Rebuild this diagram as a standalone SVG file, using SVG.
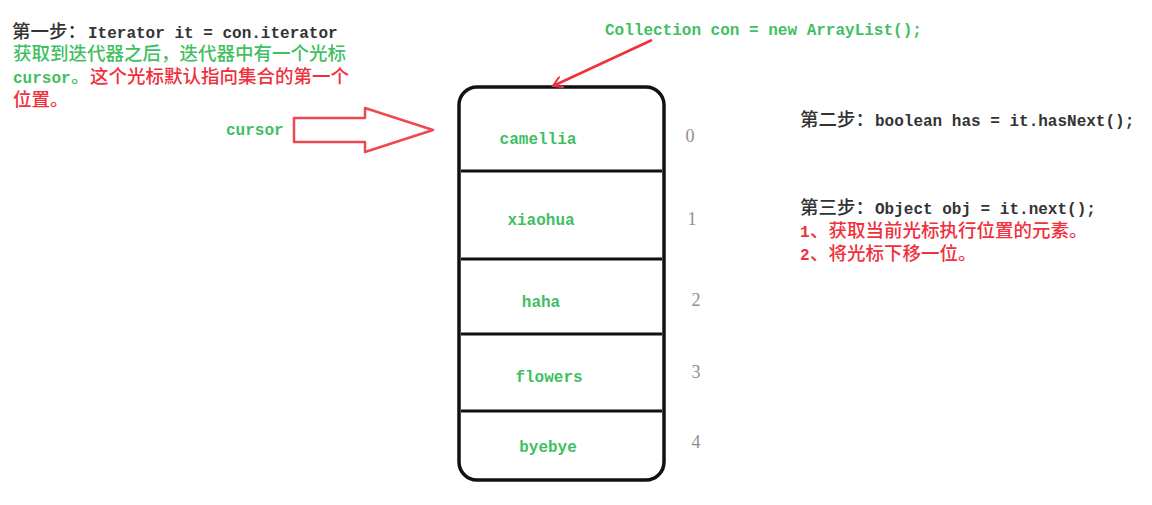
<svg xmlns="http://www.w3.org/2000/svg" width="1152" height="505" viewBox="0 0 1152 505">
<style>
text{font-family:"Liberation Mono","Noto Sans CJK SC",monospace;font-size:16px;font-weight:bold}
.c{font-family:"Noto Sans CJK SC",sans-serif;font-size:18.5px;font-weight:500}
.k{fill:#333}
.g{fill:#3fbf62}
.r{fill:#f0303c}
.n{font-family:"Liberation Serif",serif;font-size:18px;font-weight:normal;fill:#8f8f8f;text-anchor:middle}
.lbl{fill:#3fbf62;text-anchor:middle;font-weight:bold}
.div{stroke:#111;stroke-width:3;fill:none}
</style>
<defs>
<marker id="ah" viewBox="0 0 12 12" refX="10" refY="6" markerWidth="12" markerHeight="12" markerUnits="userSpaceOnUse" orient="auto">
<path d="M0,0 L10,6 L0,12" fill="none" stroke="#f0303c" stroke-width="2"/>
</marker>
</defs>
<rect width="1152" height="505" fill="#fff"/>
<g id="step1">
<text x="12" y="38" class="c k">第一步：</text>
<text x="88" y="38" class="k">Iterator it = con.iterator</text>
<text x="13" y="60" class="c g">获取到迭代器之后，迭代器中有一个光标</text>
<text x="13" y="83" class="g">cursor</text>
<text x="71" y="83" class="c g">。</text>
<text x="90" y="83" class="c r">这个光标默认指向集合的第一个</text>
<text x="13" y="106" class="c r">位置。</text>
</g>
<g id="collection-label">
<text x="605" y="35" class="g">Collection con = new ArrayList();</text>
</g>
<g id="step2">
<text x="800" y="126" class="c k">第二步：</text>
<text x="875" y="126" class="k">boolean has = it.hasNext();</text>
</g>
<g id="step3">
<text x="800" y="214" class="c k">第三步：</text>
<text x="875" y="214" class="k">Object obj = it.next();</text>
<text x="800" y="237" class="r">1</text>
<text x="810" y="237" class="c r">、获取当前光标执行位置的元素。</text>
<text x="800" y="260" class="r">2</text>
<text x="810" y="260" class="c r">、将光标下移一位。</text>
</g>
<g id="cursor">
<text x="226" y="135" class="g">cursor</text>
<path d="M294,118 L365,118 L365,108 L433,130 L365,152 L365,142 L294,142 Z" fill="#fff" stroke="#f04850" stroke-width="2.5" stroke-linejoin="round"/>
</g>
<g id="collection">
<rect x="459" y="87" width="205" height="393" rx="18" ry="18" fill="none" stroke="#111" stroke-width="3.5"/>
</g>
<g id="item0"><line x1="461" y1="171" x2="662" y2="171" class="div"/><text x="538" y="144" class="lbl">camellia</text><text x="690" y="142" class="n">0</text></g>
<g id="item1"><line x1="461" y1="259" x2="662" y2="259" class="div"/><text x="541" y="225" class="lbl">xiaohua</text><text x="692" y="225" class="n">1</text></g>
<g id="item2"><line x1="461" y1="334" x2="662" y2="334" class="div"/><text x="541" y="307" class="lbl">haha</text><text x="696" y="306" class="n">2</text></g>
<g id="item3"><line x1="461" y1="411" x2="662" y2="411" class="div"/><text x="549" y="382" class="lbl">flowers</text><text x="696" y="378" class="n">3</text></g>
<g id="item4"><text x="548" y="452" class="lbl">byebye</text><text x="696" y="448" class="n">4</text></g>
<g id="connectors">
<path d="M652,40 L553,86" fill="none" stroke="#f0303c" stroke-width="2.5" marker-end="url(#ah)"/>
</g>
</svg>
